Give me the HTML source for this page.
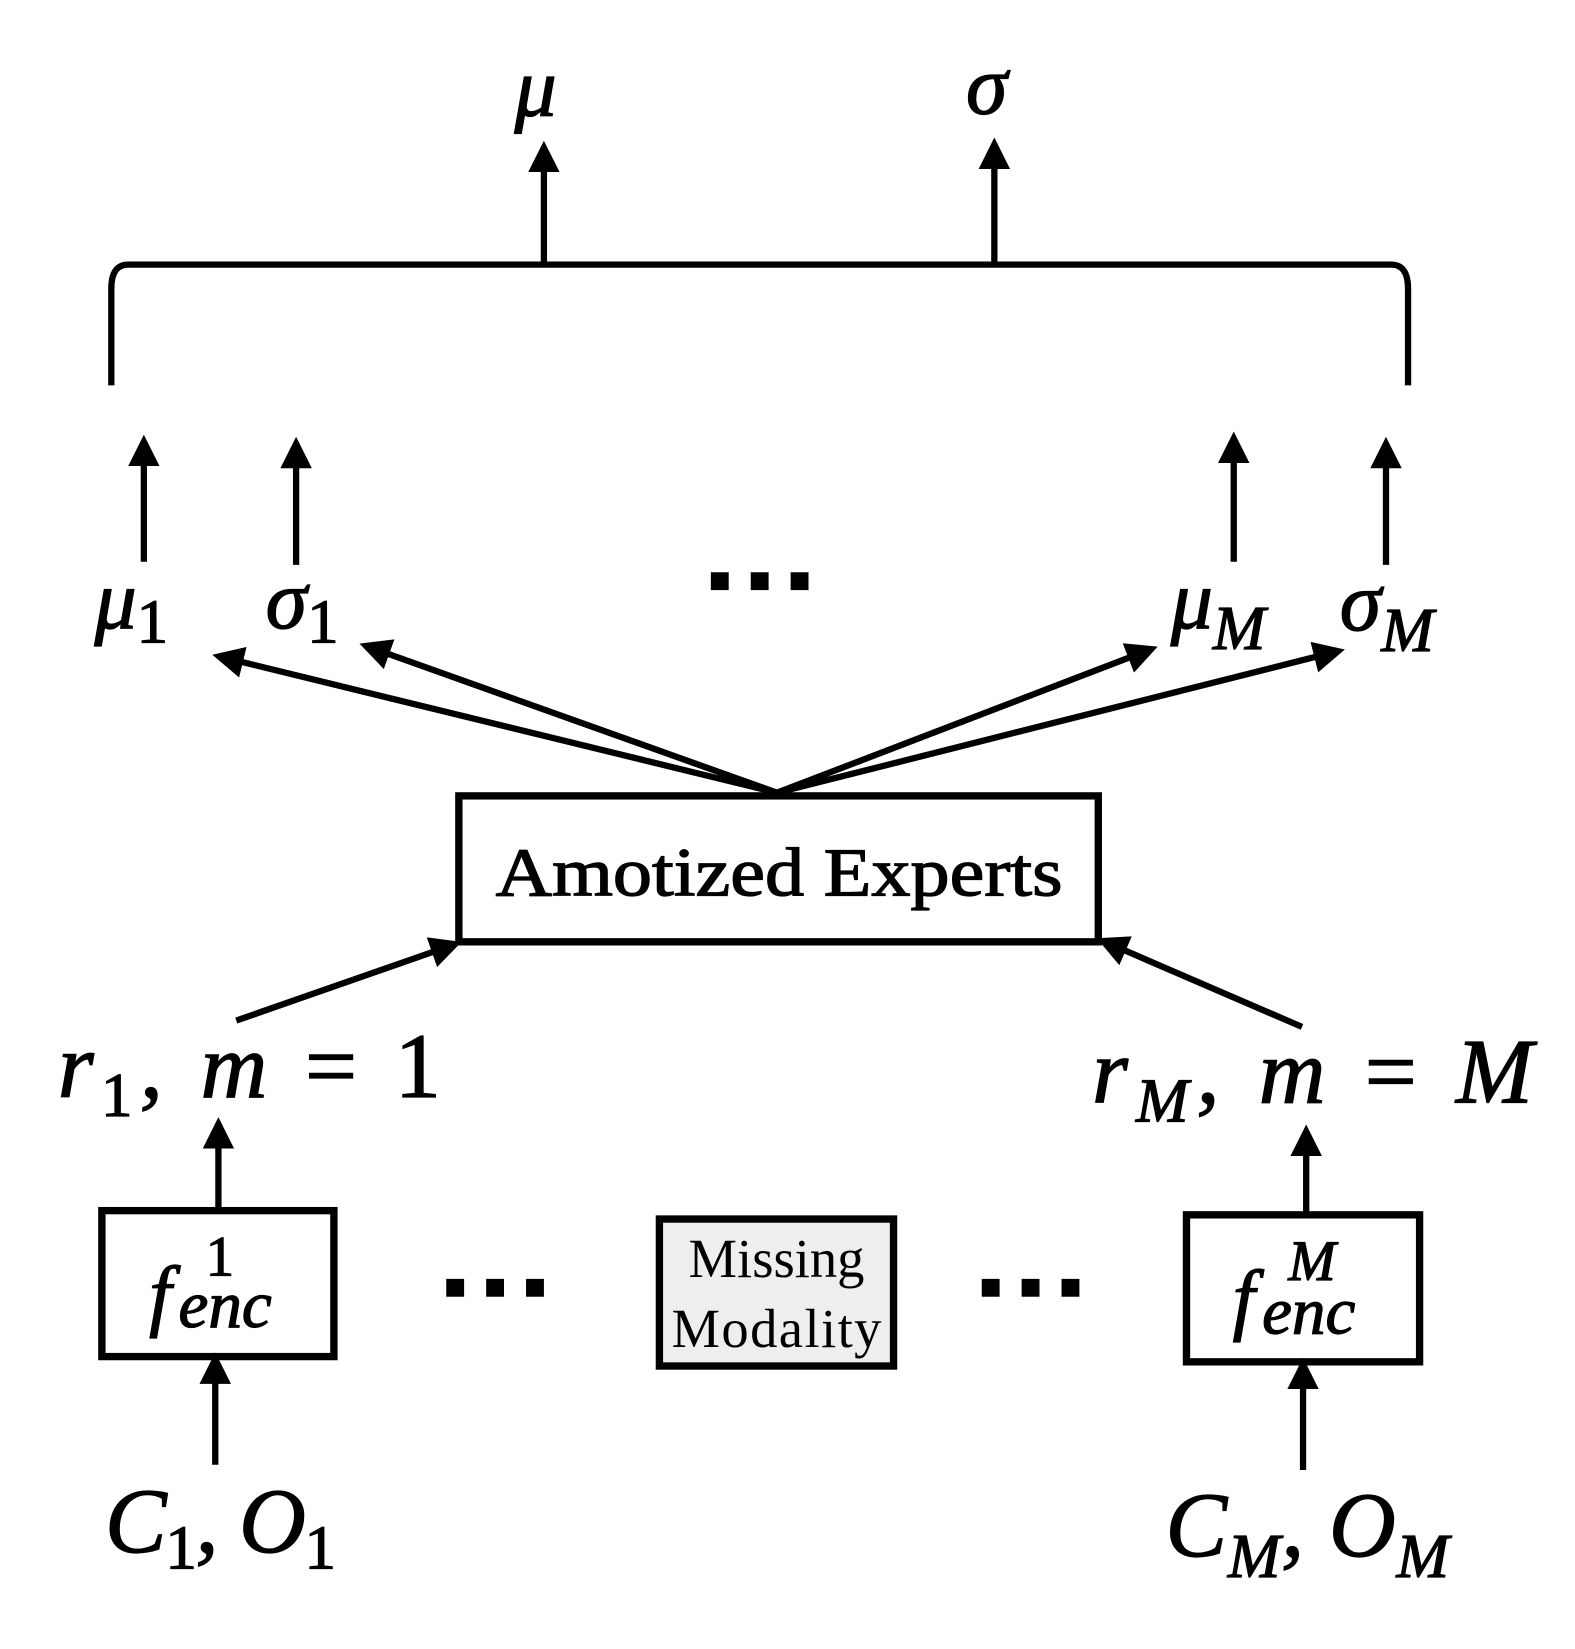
<!DOCTYPE html>
<html><head><style>
html,body{margin:0;padding:0;background:#fff;}
svg{display:block;}
text{font-family:"Liberation Serif",serif;fill:#000;}
.m{font-style:italic;}
</style></head><body>
<svg width="1575" height="1649" viewBox="0 0 1500 1570.5" xmlns="http://www.w3.org/2000/svg">
<defs>
<marker id="a" markerWidth="5" markerHeight="5" refX="4" refY="2.5" orient="auto" markerUnits="strokeWidth">
<path d="M0,0 L5,2.5 L0,5 z" fill="#000"/>
</marker>
</defs>
<g stroke="#000" stroke-width="6" fill="none">
<line x1="518" y1="250" x2="518" y2="140" marker-end="url(#a)"/>
<line x1="947" y1="250" x2="947" y2="137" marker-end="url(#a)"/>
<path d="M106,367 L106,275 Q106,252 122,252 L1325,252 Q1341,252 1341,275 L1341,367"/>
<line x1="137" y1="535" x2="137" y2="420" marker-end="url(#a)"/>
<line x1="282" y1="538" x2="282" y2="422" marker-end="url(#a)"/>
<line x1="1175" y1="535" x2="1175" y2="417" marker-end="url(#a)"/>
<line x1="1320" y1="538" x2="1320" y2="422" marker-end="url(#a)"/>
<line x1="740" y1="755" x2="208" y2="625" marker-end="url(#a)"/>
<line x1="740" y1="755" x2="348" y2="615" marker-end="url(#a)"/>
<line x1="740" y1="755" x2="1097" y2="618" marker-end="url(#a)"/>
<line x1="740" y1="755" x2="1275" y2="620" marker-end="url(#a)"/>
<rect x="437" y="758" width="609" height="139" stroke-width="7"/>
<line x1="225" y1="972" x2="434" y2="899" marker-end="url(#a)"/>
<line x1="1240" y1="978" x2="1050" y2="896" marker-end="url(#a)"/>
<line x1="208" y1="1150" x2="208" y2="1070" marker-end="url(#a)"/>
<line x1="1244" y1="1155" x2="1244" y2="1077" marker-end="url(#a)"/>
<rect x="97" y="1153" width="221" height="139" stroke-width="7"/>
<rect x="1130" y="1157" width="222" height="140" stroke-width="7"/>
<rect x="628" y="1161" width="223" height="140" stroke-width="7" fill="#eeeeee"/>
<line x1="205" y1="1395" x2="205" y2="1294" marker-end="url(#a)"/>
<line x1="1241" y1="1400" x2="1241" y2="1299" marker-end="url(#a)"/>
</g>
<g fill="#000">
<rect x="677" y="545" width="17" height="17"/><rect x="715" y="545" width="17" height="17"/><rect x="753" y="545" width="17" height="17"/>
<rect x="425" y="1218" width="17" height="17"/><rect x="463" y="1218" width="17" height="17"/><rect x="501" y="1218" width="17" height="17"/>
<rect x="935" y="1218" width="17" height="17"/><rect x="973" y="1218" width="17" height="17"/><rect x="1011" y="1218" width="17" height="17"/>
</g>
<g stroke="#000" stroke-width="1.2">
<text x="490" y="110" font-size="80" class="m">μ</text>
<text x="920" y="108" font-size="80" class="m">σ</text>
<text x="90" y="598" font-size="80" class="m">μ<tspan font-style="normal" font-size="60" dy="14">1</tspan></text>
<text x="253" y="598" font-size="80" class="m">σ<tspan font-style="normal" font-size="60" dy="14">1</tspan></text>
<text x="1115" y="598" font-size="80" class="m">μ<tspan font-size="60" dy="20">M</tspan></text>
<text x="1276" y="600" font-size="80" class="m">σ<tspan font-size="60" dy="20">M</tspan></text>
<text x="472" y="853" font-size="66" textLength="540" lengthAdjust="spacingAndGlyphs">Amotized Experts</text>
<text x="55" y="1045" font-size="88" class="m" textLength="365">r<tspan font-style="normal" font-size="60" dy="18">1</tspan><tspan dy="-18">, m </tspan><tspan font-style="normal">= 1</tspan></text>
<text x="1040" y="1050" font-size="88" class="m" textLength="420">r<tspan font-size="60" dy="18">M</tspan><tspan dy="-18">, m </tspan><tspan font-style="normal">=</tspan> M</text>
<text x="142" y="1258" font-size="76" class="m">f</text>
<text x="196" y="1215" font-size="54">1</text>
<text x="170" y="1264" font-size="64" class="m">enc</text>
<text x="1174" y="1262" font-size="76" class="m">f</text>
<text x="1227" y="1219" font-size="54" class="m">M</text>
<text x="1202" y="1270" font-size="64" class="m">enc</text>
</g>
<text x="739.5" y="1216" font-size="52" text-anchor="middle">Missing</text>
<text x="739.5" y="1283" font-size="52" text-anchor="middle" textLength="200">Modality</text>
<g stroke="#000" stroke-width="1.2">
<text x="100" y="1478" font-size="88" class="m" textLength="220">C<tspan font-style="normal" font-size="60" dy="16">1</tspan><tspan dy="-16">, O</tspan><tspan font-style="normal" font-size="60" dy="16">1</tspan></text>
<text x="1110" y="1482" font-size="88" class="m" textLength="270">C<tspan font-size="60" dy="20">M</tspan><tspan dy="-20">, O</tspan><tspan font-size="60" dy="20">M</tspan></text>
</g>
</svg>
</body></html>
